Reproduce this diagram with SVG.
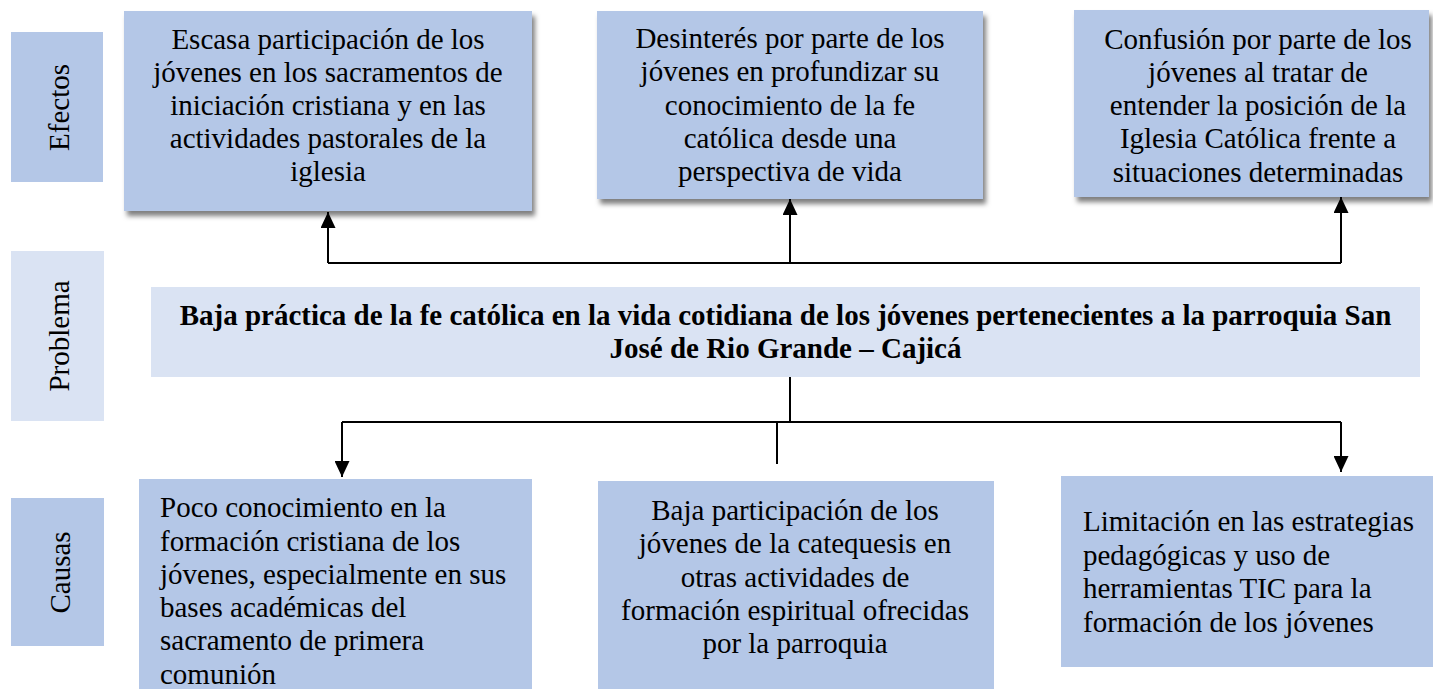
<svg xmlns="http://www.w3.org/2000/svg" width="1433" height="689" viewBox="0 0 1433 689">
  <style>
    text { font-family: "Liberation Serif", "Times New Roman", serif; font-size: 29px; fill: #000; }
    .c { text-anchor: middle; }
    .b { font-weight: bold; }
    .dark { fill: #b4c7e7; }
    .light { fill: #dae3f3; }
    .ln { stroke: #000; stroke-width: 2; fill: none; }
  </style>
  <defs>
    <filter id="sh" x="-5%" y="-10%" width="115%" height="130%">
      <feDropShadow dx="3" dy="5" stdDeviation="2.5" flood-color="#000" flood-opacity="0.5"/>
    </filter>
    <marker id="ah" viewBox="0 0 16 15" refX="16" refY="7.5" markerWidth="16" markerHeight="15" markerUnits="userSpaceOnUse" orient="auto">
      <path d="M0,0 L16,7.5 L0,15 Z" fill="#000"/>
    </marker>
  </defs>

  <g id="label-efectos">
    <rect class="dark" x="11" y="32" width="92" height="150"/>
    <text class="c" transform="translate(69,107.5) rotate(-90)">Efectos</text>
  </g>
  <g id="label-problema">
    <rect class="light" x="11" y="251" width="93" height="170"/>
    <text class="c" transform="translate(69,336) rotate(-90)">Problema</text>
  </g>
  <g id="label-causas">
    <rect class="dark" x="11" y="498" width="93" height="148"/>
    <text class="c" transform="translate(70,572.5) rotate(-90)">Causas</text>
  </g>

  <g id="efecto-1">
    <rect class="dark" x="124" y="11" width="408" height="200" filter="url(#sh)"/>
    <text class="c" x="328" y="49">Escasa participación de los</text>
    <text class="c" x="328" y="82">jóvenes en los sacramentos de</text>
    <text class="c" x="328" y="115">iniciación cristiana y en las</text>
    <text class="c" x="328" y="148">actividades pastorales de la</text>
    <text class="c" x="328" y="181">iglesia</text>
  </g>
  <g id="efecto-2">
    <rect class="dark" x="597" y="11" width="386" height="188" filter="url(#sh)"/>
    <text class="c" x="790" y="48">Desinterés por parte de los</text>
    <text class="c" x="790" y="81">jóvenes en profundizar su</text>
    <text class="c" x="790" y="115">conocimiento de la fe</text>
    <text class="c" x="790" y="148">católica desde una</text>
    <text class="c" x="790" y="181">perspectiva de vida</text>
  </g>
  <g id="efecto-3">
    <rect class="dark" x="1074" y="10" width="355" height="187" filter="url(#sh)"/>
    <text class="c" x="1258" y="49">Confusión por parte de los</text>
    <text class="c" x="1258" y="82">jóvenes al tratar de</text>
    <text class="c" x="1258" y="115">entender la posición de la</text>
    <text class="c" x="1258" y="148">Iglesia Católica frente a</text>
    <text class="c" x="1258" y="182">situaciones determinadas</text>
  </g>

  <g id="problema">
    <rect class="light" x="151" y="287" width="1269" height="90"/>
    <text class="c b" x="785.5" y="325">Baja práctica de la fe católica en la vida cotidiana de los jóvenes pertenecientes a la parroquia San</text>
    <text class="c b" x="785.5" y="358">José de Rio Grande – Cajicá</text>
  </g>

  <g id="causa-1">
    <rect class="dark" x="139" y="479" width="393" height="215"/>
    <text x="160" y="517">Poco conocimiento en la</text>
    <text x="160" y="551">formación cristiana de los</text>
    <text x="160" y="584">jóvenes, especialmente en sus</text>
    <text x="160" y="617">bases académicas del</text>
    <text x="160" y="650">sacramento de primera</text>
    <text x="160" y="684">comunión</text>
  </g>
  <g id="causa-2">
    <rect class="dark" x="598" y="481" width="396" height="213"/>
    <text class="c" x="795" y="520">Baja participación de los</text>
    <text class="c" x="795" y="553">jóvenes de la catequesis en</text>
    <text class="c" x="795" y="587">otras actividades de</text>
    <text class="c" x="795" y="620">formación espiritual ofrecidas</text>
    <text class="c" x="795" y="653">por la parroquia</text>
  </g>
  <g id="causa-3">
    <rect class="dark" x="1061" y="476" width="372" height="191"/>
    <text x="1083" y="531">Limitación en las estrategias</text>
    <text x="1083" y="565">pedagógicas y uso de</text>
    <text x="1083" y="598">herramientas TIC para la</text>
    <text x="1083" y="632">formación de los jóvenes</text>
  </g>

  <g id="connectors">
    <polyline class="ln" points="328,263 1341,263"/>
    <line class="ln" x1="328" y1="263" x2="328" y2="212" marker-end="url(#ah)"/>
    <line class="ln" x1="790" y1="263" x2="790" y2="199" marker-end="url(#ah)"/>
    <line class="ln" x1="1341" y1="263" x2="1341" y2="197" marker-end="url(#ah)"/>
    <line class="ln" x1="790" y1="377" x2="790" y2="422"/>
    <polyline class="ln" points="342,422 1341,422"/>
    <line class="ln" x1="342" y1="422" x2="342" y2="477" marker-end="url(#ah)"/>
    <line class="ln" x1="777" y1="422" x2="777" y2="464"/>
    <line class="ln" x1="1341" y1="422" x2="1341" y2="472" marker-end="url(#ah)"/>
  </g>
</svg>
